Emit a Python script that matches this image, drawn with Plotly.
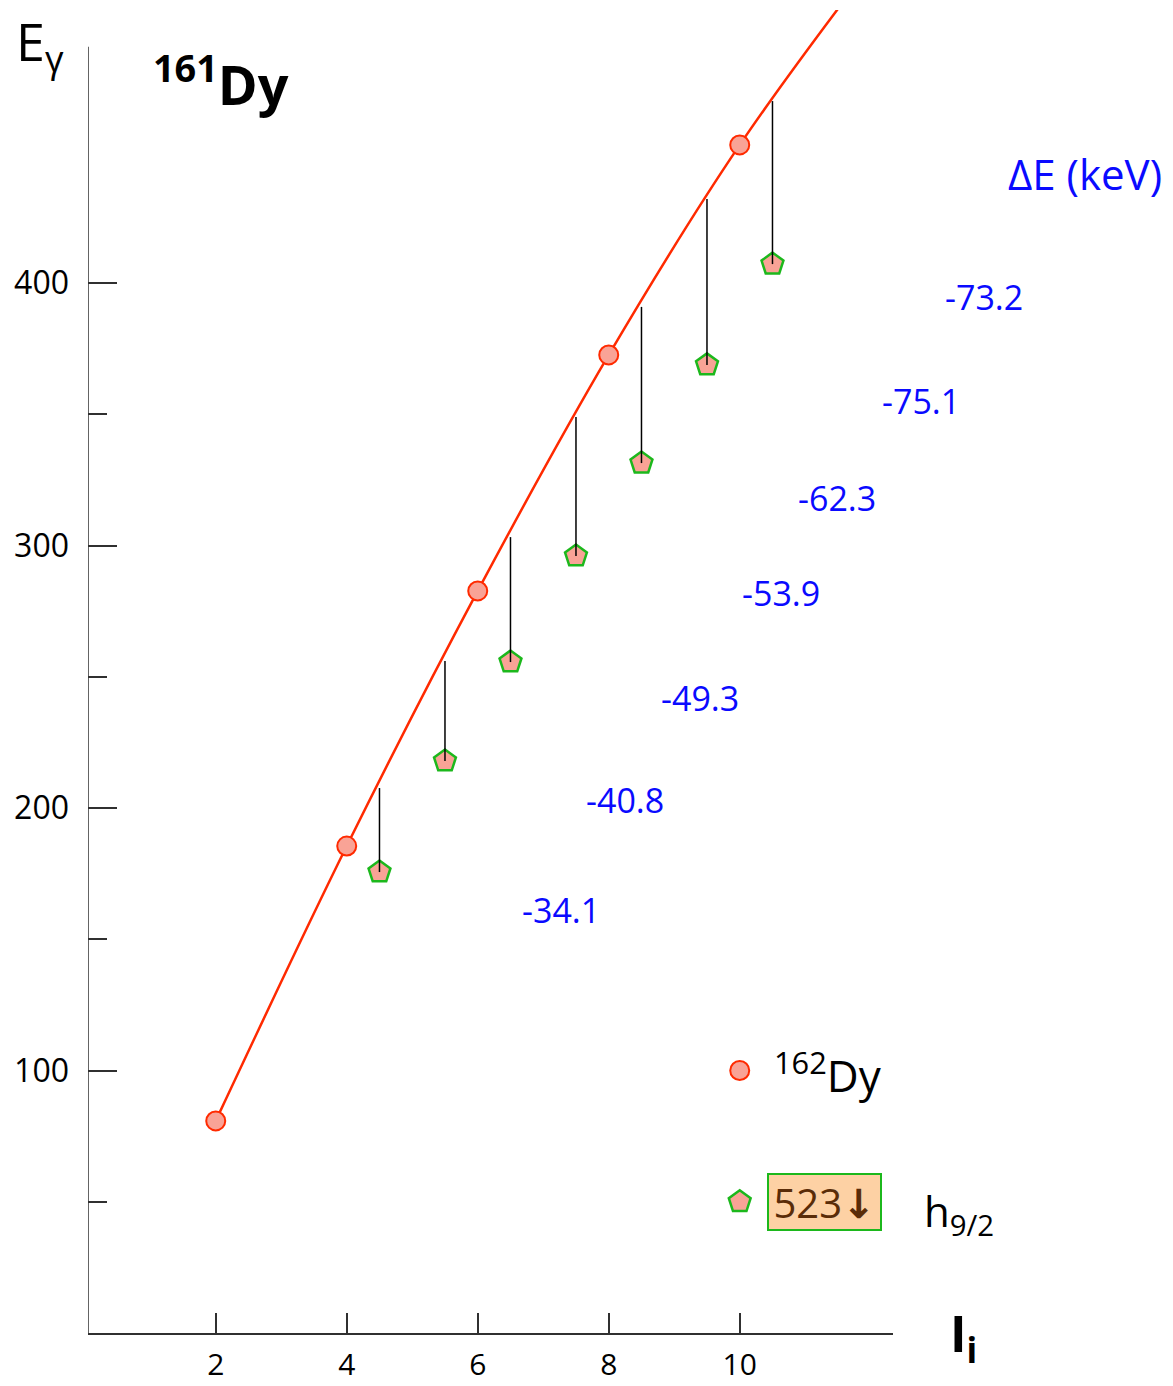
import plotly.graph_objects as go

# ---------------- data ----------------
band_I = [2, 4, 6, 8, 10, 12]                      # 162Dy ground band spins
band_E = [80.8, 185.5, 282.7, 372.6, 452.6, 521.0]  # E_gamma (keV)

h92_I = [4.5, 5.5, 6.5, 7.5, 8.5, 9.5, 10.5]       # 161Dy 523(h9/2) band spins
h92_E = [175.6, 217.9, 255.6, 296.0, 331.4, 368.8, 407.2]
ref_E = [207.6, 256.0, 303.2, 349.0, 390.9, 432.0, 469.3]  # reference curve at same spin
dE_labels = ["-34.1", "-40.8", "-49.3", "-53.9", "-62.3", "-75.1", "-73.2"]

x_ticks = [2, 4, 6, 8, 10]
y_ticks = [100, 200, 300, 400]
y_minor = [50, 150, 250, 350]

# ---------------- layout constants ----------------
W, H = 1173, 1386
L, R, T, B = 88, 280, 10, 53
XR = [0.05, 12.34]
YR = [0.0, 504.0]
PW, PH = W - L - R, H - T - B

def px_paper(px, py):
    return (px - L) / PW, (H - B - py) / PH

def data_paper(x, y):
    return (x - XR[0]) / (XR[1] - XR[0]), (y - YR[0]) / (YR[1] - YR[0])

# label positions (data units) for the ΔE values
lab_x = [7.27, 8.25, 9.39, 10.63, 11.49, 12.77, 13.73]
lab_y = [161.1, 203.0, 241.9, 281.9, 318.1, 355.0, 394.7]

FONT = "Open Sans, Lato, DejaVu Sans, sans-serif"
RED = "#ff2a00"
SALMON = "#f9a396"
GREEN = "#1cb81c"
BLUE = "#0a0aff"

fig = go.Figure()

# reference curve + 162Dy points
fig.add_trace(go.Scatter(
    x=band_I, y=band_E, mode="lines+markers",
    line=dict(color=RED, width=2.5, shape="spline"),
    marker=dict(symbol="circle", size=19, color=SALMON, line=dict(color=RED, width=2)),
    cliponaxis=True, showlegend=False, hoverinfo="skip"))

# h9/2 band pentagons
fig.add_trace(go.Scatter(
    x=h92_I, y=h92_E, mode="markers",
    marker=dict(symbol="pentagon", size=23, color=SALMON, line=dict(color=GREEN, width=2.5)),
    showlegend=False, hoverinfo="skip"))

# vertical difference lines
vx, vy = [], []
for xi, lo, hi in zip(h92_I, h92_E, ref_E):
    vx += [xi, xi, None]
    vy += [lo, hi, None]
fig.add_trace(go.Scatter(x=vx, y=vy, mode="lines",
                         line=dict(color="black", width=1.5),
                         showlegend=False, hoverinfo="skip"))

# legend symbols (in data space)
fig.add_trace(go.Scatter(
    x=[10], y=[100], mode="markers",
    marker=dict(symbol="circle", size=19, color=SALMON, line=dict(color=RED, width=2)),
    showlegend=False, hoverinfo="skip"))
fig.add_trace(go.Scatter(
    x=[10], y=[50], mode="markers",
    marker=dict(symbol="pentagon", size=23, color=SALMON, line=dict(color=GREEN, width=2.5)),
    showlegend=False, hoverinfo="skip"))

ann = []
# ΔE labels
for t, lx, ly in zip(dE_labels, lab_x, lab_y):
    px, py = data_paper(lx, ly)
    ann.append(dict(x=px, y=py, xref="paper", yref="paper", text=t, showarrow=False,
                    xanchor="center", yanchor="middle",
                    font=dict(family=FONT, size=34, color=BLUE)))

def add_text(px, py, text, size, color="black", xanchor="left", **kw):
    x, y = px_paper(px, py)
    d = dict(x=x, y=y, xref="paper", yref="paper", text=text, showarrow=False,
             xanchor=xanchor, yanchor="middle", font=dict(family=FONT, size=size, color=color))
    d.update(kw)
    ann.append(d)

add_text(1085, 173, "ΔE (keV)", 42, BLUE, xanchor="center")
add_text(14, 44, "E<sub>γ</sub>", 52)
add_text(151, 82, "<b><sup>161</sup>Dy</b>", 54)
add_text(772, 1073, "<sup>162</sup>Dy", 44)
add_text(922, 1213, "h<sub>9/2</sub>", 42)
add_text(948, 1336, "<b>I<sub>i</sub></b>", 50)
# boxed label 523↓
bx, by = px_paper(824.5, 1202)
ann.append(dict(x=bx, y=by, xref="paper", yref="paper",
                text="523<span style='font-family:DejaVu Sans'><b>↓</b></span>",
                showarrow=False,
                xanchor="center", yanchor="middle", width=111, height=54, borderpad=0,
                bgcolor="#fdd1a4", bordercolor=GREEN, borderwidth=2,
                font=dict(family=FONT, size=40, color="#5a2c08")))

# y-axis line (ends below the plot top)
fig.add_shape(type="line", xref="x", yref="y", x0=XR[0], x1=XR[0], y0=0, y1=490,
              line=dict(color="#303030", width=1.5))

fig.update_layout(
    width=W, height=H, autosize=False,
    margin=dict(l=L, r=R, t=T, b=B, pad=0, autoexpand=False),
    paper_bgcolor="white", plot_bgcolor="white",
    annotations=ann,
    xaxis=dict(range=XR, tickvals=x_ticks, ticks="inside", ticklen=20, tickwidth=1.5,
               tickcolor="#303030", showline=True, linecolor="#303030", linewidth=1.5,
               showgrid=False, zeroline=False, ticklabelstandoff=4, automargin=False,
               tickfont=dict(family=FONT, size=30, color="black")),
    yaxis=dict(range=YR, tickvals=y_ticks, ticks="inside", ticklen=29, tickwidth=1.5,
               tickcolor="#303030", showline=False, showgrid=False, zeroline=False,
               ticklabelstandoff=18, automargin=False,
               minor=dict(tickvals=y_minor, ticks="inside", ticklen=19, tickwidth=1.5,
                          tickcolor="#303030", showgrid=False),
               tickfont=dict(family=FONT, size=32, color="black")),
)

fig.write_html("out.html",
               config={"displayModeBar": False, "responsive": False},
               post_script="document.body.style.margin='0px';document.body.style.padding='0px';")
